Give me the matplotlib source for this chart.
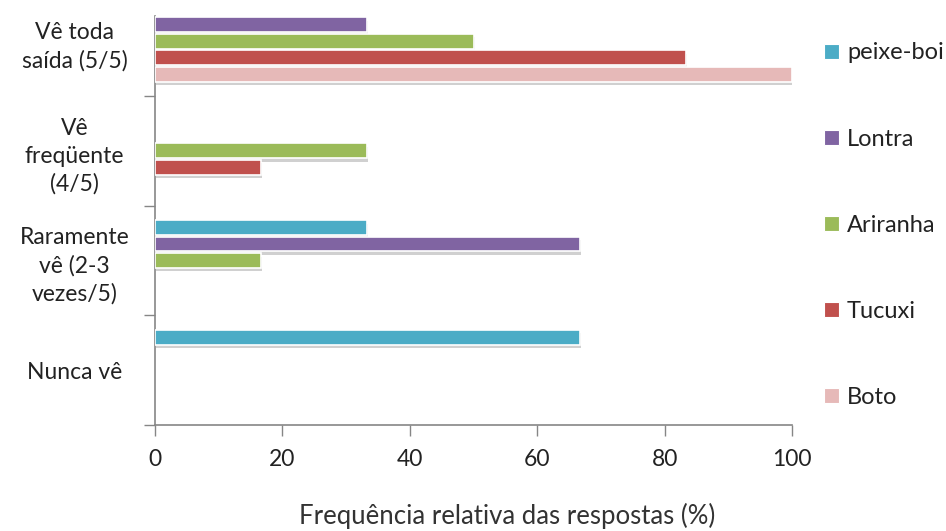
import numpy as np
import matplotlib.pyplot as plt
import matplotlib.patheffects as pe

plt.rcParams['font.family'] = ['Lato', 'DejaVu Sans']

categories = ['Nunca vê', 'Raramente\nvê (2-3\nvezes/5)', 'Vê\nfreqüente\n(4/5)', 'Vê toda\nsaída (5/5)']
species = ['peixe-boi', 'Lontra', 'Ariranha', 'Tucuxi', 'Boto']
peixe_boi = [66.7, 33.3, 0, 0]
lontra = [0, 66.7, 0, 33.3]
ariranha = [0, 16.7, 33.3, 50]
tucuxi = [0, 0, 16.7, 83.3]
boto = [0, 0, 0, 100]
colors = ['#4BACC6', '#8064A2', '#9BBB59', '#C0504D', '#E6B9B8']

series = [peixe_boi, lontra, ariranha, tucuxi, boto]
offsets = [0.3, 0.15, 0.0, -0.15, -0.3]

fig = plt.figure(figsize=(9.46, 5.31), dpi=100)
ax = fig.add_axes([155/946, 1-425/531, (792-155)/946, (425-16)/531])

y = np.arange(len(categories))
shadow = [pe.SimplePatchShadow(offset=(0.8, -2.5), shadow_rgbFace='#666666', alpha=0.3), pe.Normal()]
handles = []
for vals, off, c, name in zip(series, offsets, colors, species):
    vals = np.array(vals, dtype=float)
    keep = vals > 0
    bars = ax.barh(y[keep] + off, vals[keep], height=0.135, color=c,
                   edgecolor='white', linewidth=1.2, zorder=3)
    for b in bars:
        b.set_path_effects(shadow)
    handles.append(plt.Rectangle((0, 0), 1, 1, facecolor=c, edgecolor='white', linewidth=0.8))

ax.set_xlim(0, 100)
ax.set_ylim(-0.5, 3.23)
ax.set_xticks(np.arange(0, 101, 20))
ax.set_yticks(np.arange(-0.5, 3.0, 1.0))
ax.set_yticks(y, categories, minor=True)
ax.set_yticklabels([])
ax.tick_params(axis='y', which='major', length=8, width=1, color='#868686', direction='out')
ax.tick_params(axis='y', which='minor', length=0, pad=12, labelsize=16.5, labelcolor='#222222')
for t in ax.get_yticklabels(minor=True):
    t.set_horizontalalignment('center')
    t.set_x(-0.1)
    t.set_linespacing(1.4)
ax.tick_params(axis='x', length=8, width=1, color='#868686', direction='out', pad=9,
               labelsize=16.5, labelcolor='#222222')

for s in ['top', 'right']:
    ax.spines[s].set_visible(False)
for s in ['left', 'bottom']:
    ax.spines[s].set_color('#868686')
    ax.spines[s].set_linewidth(1.2)

ax.set_xlabel('Frequência relativa das respostas (%)', fontsize=18.5, color='#333333',
              labelpad=24, x=0.553)

leg = fig.legend(handles, species, loc='upper left', bbox_to_anchor=(815/946, 1-33/531),
                 frameon=False, fontsize=17, labelspacing=2.76, handlelength=0.6,
                 handleheight=0.6, handletextpad=0.35, borderaxespad=0)
for t in leg.get_texts():
    t.set_color('#222222')

fig.savefig('out.png', dpi=100)
